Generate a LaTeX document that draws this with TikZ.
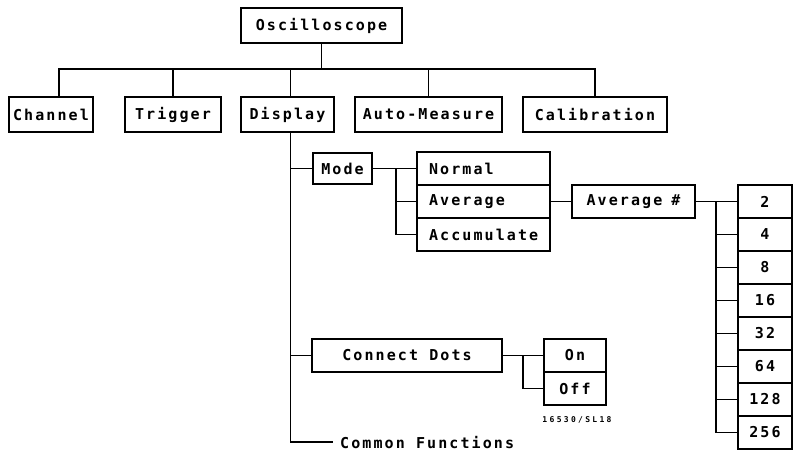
\documentclass[tikz,border=0pt]{standalone}
\usepackage{fontspec}
\newfontfamily\plotfont[LetterSpace=14]{DejaVu Sans Mono}
\newfontfamily\tinyfont[LetterSpace=29]{DejaVu Sans Mono}
\begin{document}
\begin{tikzpicture}[x=1pt,y=-1pt,
  txt/.style={font={\fontsize{15}{18}\selectfont\plotfont\bfseries}},
  box/.style={txt, draw, line width=2.2pt, inner sep=0pt, minimum height=35pt},
  lbox/.style={box, inner xsep=12pt, text width=#1, align=left},
  conn/.style={line width=1.5pt}]
\useasboundingbox (0,0) rectangle (799,461);
\fill[white] (0,0) rectangle (799,461);

% top level
\node[box, minimum width=161pt] (osc) at (321.5,25.5) {Oscilloscope};
\node[box, minimum width=84pt] (chan) at (51,114.5) {Channel};
\node[box, minimum width=96pt] (trig) at (173,114.5) {Trigger};
\node[box, minimum width=93pt] (disp) at (287.5,114.5) {Display};
\node[box, minimum width=147pt] (auto) at (428.5,114.5) {Auto-Measure};
\node[box, minimum width=144pt] (cal) at (595,114.5) {Calibration};

\coordinate (bus) at (321.5,69);
\draw[conn] (osc.south) -- (bus);
\draw[conn] ([xshift=8pt]chan.north) -- ([xshift=8pt]chan.north |- bus) -- (cal.north |- bus) -- (cal.north);
\draw[conn] (trig.north) -- (trig.north |- bus);
\draw[conn] ([xshift=3pt]disp.north) -- ([xshift=3pt]disp.north |- bus);
\draw[conn] (auto.north) -- (auto.north |- bus);

% display subtree
\node[box, minimum width=59pt, minimum height=31pt] (mode) at (342.5,168.5) {Mode};
\node[lbox=109pt, minimum height=33pt] (normal) at (483.5,168.5) {Normal};
\node[lbox=109pt, minimum height=33pt] (avg) at (483.5,201.5) {Average};
\node[lbox=109pt, minimum height=33pt] (accum) at (483.5,234.5) {Accumulate};
\node[box, minimum width=123pt, minimum height=33pt] (avgn) at (633.5,201.5) {Average\hspace{9pt}\#};

\node[box, minimum width=54pt, minimum height=33pt] (n2) at (765,201.5) {2};
\node[box, minimum width=54pt, minimum height=33pt] (n4) at (765,234.5) {4};
\node[box, minimum width=54pt, minimum height=33pt] (n8) at (765,267.5) {8};
\node[box, minimum width=54pt, minimum height=33pt] (n16) at (765,300.5) {16};
\node[box, minimum width=54pt, minimum height=33pt] (n32) at (765,333.5) {32};
\node[box, minimum width=54pt, minimum height=33pt] (n64) at (765,366.5) {64};
\node[box, minimum width=54pt, minimum height=33pt] (n128) at (765,399.5) {128};
\node[box, minimum width=54pt, minimum height=33pt] (n256) at (765,432.5) {256};

\node[box, minimum width=190pt, minimum height=33pt] (cd) at (407,355.5) {Connect Dots};
\node[box, minimum width=62pt, minimum height=33pt] (on) at (575,355.5) {On};
\node[box, minimum width=62pt, minimum height=33pt] (off) at (575,388.5) {Off};

\node[txt, anchor=west, inner sep=0pt] (cf) at (340,442) {Common Functions};
\node[font={\fontsize{8}{9}\selectfont\tinyfont\bfseries}, inner sep=0pt] (code) at (577,420) {16530/SL18};

% display spine
\coordinate (dtop) at ([xshift=3pt]disp.south);
\draw[conn] (dtop) |- ([xshift=-7pt]cf.west);
\draw[conn] (dtop |- mode.west) -- (mode.west);
\draw[conn] (dtop |- cd.west) -- (cd.west);

% mode branches
\coordinate (mj) at (396,168.5);
\draw[conn] (mode.east) -- (normal.west);
\draw[conn] (mj) |- (accum.west);
\draw[conn] (mj |- avg.west) -- (avg.west);

\draw[conn] (avg.east) -- (avgn.west);

% average # branches
\coordinate (aj) at (716,201.5);
\draw[conn] (avgn.east) -- (n2.west);
\draw[conn] (aj) |- (n256.west);
\foreach \n in {n4,n8,n16,n32,n64,n128}
  \draw[conn] (aj |- \n.west) -- (\n.west);

% connect dots branches
\coordinate (cj) at (523,355.5);
\draw[conn] (cd.east) -- (on.west);
\draw[conn] (cj) |- (off.west);
\end{tikzpicture}
\end{document}
